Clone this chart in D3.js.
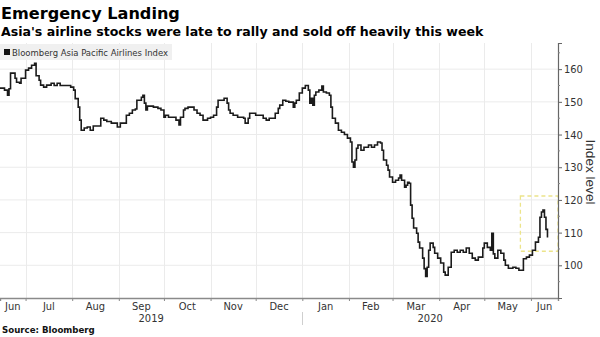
<!DOCTYPE html>
<html><head><meta charset="utf-8">
<script src="https://cdn.jsdelivr.net/npm/d3@7"></script>
<style>
html,body{margin:0;padding:0;background:#fff;}
svg{display:block;}
</style></head>
<body>
<svg id="chart" width="600" height="337"></svg>
<script>
// ---------------- data ----------------
const titleText = "Emergency Landing";
const subtitleText = "Asia's airline stocks were late to rally and sold off heavily this week";
const legendLabel = "Bloomberg Asia Pacific Airlines Index";
const sourceText = "Source: Bloomberg";
const yAxisTitle = "Index level";

const yTicks = [100, 110, 120, 130, 140, 150, 160];
const monthStarts = ["2019-06-01","2019-07-01","2019-08-01","2019-09-01","2019-10-01","2019-11-01","2019-12-01",
                     "2020-01-01","2020-02-01","2020-03-01","2020-04-01","2020-05-01","2020-06-01"];
const monthLabels = ["Jun","Jul","Aug","Sep","Oct","Nov","Dec","Jan","Feb","Mar","Apr","May","Jun"];
const yearStarts = ["2019-01-01","2020-01-01"];
const yearLabels = ["2019","2020"];

// highlight window (dates, index values)
const highlightDates = ["2020-05-25","2020-06-19"];
const highlightValues = [104.3, 121.2];

const indexSeries = [
["2019-06-14",154.2],["2019-06-17",153.6],["2019-06-19",152.0],["2019-06-20",154.0],["2019-06-21",158.8],
["2019-06-24",157.2],["2019-06-25",156.0],["2019-06-27",155.7],["2019-06-28",157.2],["2019-07-01",159.7],
["2019-07-03",160.3],["2019-07-05",161.2],["2019-07-07",161.8],["2019-07-08",158.0],["2019-07-10",156.6],
["2019-07-11",155.1],["2019-07-13",154.5],["2019-07-15",155.1],["2019-07-18",155.7],["2019-07-20",155.0],
["2019-07-22",155.7],["2019-07-24",155.0],["2019-07-28",155.0],["2019-07-31",154.5],["2019-08-02",153.6],
["2019-08-03",151.0],["2019-08-05",148.4],["2019-08-06",144.4],["2019-08-07",141.3],["2019-08-09",142.0],
["2019-08-11",142.3],["2019-08-13",141.3],["2019-08-15",142.6],["2019-08-18",142.6],["2019-08-20",145.0],
["2019-08-22",144.4],["2019-08-24",144.0],["2019-08-27",143.5],["2019-08-29",143.5],["2019-08-31",142.3],
["2019-09-02",143.5],["2019-09-04",143.5],["2019-09-06",145.9],["2019-09-08",146.5],["2019-09-10",147.5],
["2019-09-12",147.8],["2019-09-13",150.5],["2019-09-16",151.4],["2019-09-17",152.0],["2019-09-18",149.6],
["2019-09-19",147.5],["2019-09-20",148.7],["2019-09-24",148.4],["2019-09-27",148.0],["2019-09-29",147.5],
["2019-10-01",145.3],["2019-10-02",145.9],["2019-10-04",145.3],["2019-10-07",145.3],["2019-10-09",144.4],
["2019-10-11",142.9],["2019-10-12",145.3],["2019-10-14",147.5],["2019-10-15",148.0],["2019-10-17",148.4],
["2019-10-20",148.4],["2019-10-21",147.5],["2019-10-23",146.5],["2019-10-25",145.9],["2019-10-27",144.4],
["2019-10-30",145.0],["2019-11-01",145.3],["2019-11-03",145.9],["2019-11-05",148.4],["2019-11-06",150.5],
["2019-11-08",150.5],["2019-11-10",151.1],["2019-11-12",149.6],["2019-11-13",147.5],["2019-11-14",146.5],
["2019-11-16",145.9],["2019-11-19",145.3],["2019-11-21",145.3],["2019-11-23",145.0],["2019-11-24",143.5],
["2019-11-26",145.0],["2019-11-27",146.5],["2019-11-29",146.5],["2019-12-01",145.9],["2019-12-03",145.9],
["2019-12-06",145.0],["2019-12-08",144.4],["2019-12-10",145.0],["2019-12-12",145.0],["2019-12-14",146.5],
["2019-12-16",148.0],["2019-12-17",149.0],["2019-12-19",150.5],["2019-12-21",150.2],["2019-12-23",149.9],
["2019-12-26",148.4],["2019-12-27",149.6],["2019-12-28",150.5],["2019-12-30",152.7],["2020-01-01",154.2],
["2020-01-03",155.0],["2020-01-05",153.6],["2020-01-06",149.6],["2020-01-07",151.1],["2020-01-08",149.0],
["2020-01-09",152.0],["2020-01-10",153.0],["2020-01-12",153.6],["2020-01-14",154.8],["2020-01-15",153.0],
["2020-01-17",152.7],["2020-01-19",152.0],["2020-01-20",148.4],["2020-01-21",145.0],["2020-01-23",143.5],
["2020-01-25",141.3],["2020-01-27",140.7],["2020-01-29",140.0],["2020-01-31",138.9],["2020-02-02",137.7],
["2020-02-03",131.6],["2020-02-04",130.0],["2020-02-05",132.2],["2020-02-06",135.8],["2020-02-07",136.8],
["2020-02-09",135.2],["2020-02-11",136.1],["2020-02-14",136.8],["2020-02-16",136.1],["2020-02-18",136.8],
["2020-02-20",137.7],["2020-02-22",137.4],["2020-02-23",135.2],["2020-02-24",132.2],["2020-02-26",130.6],
["2020-02-27",129.1],["2020-02-28",127.0],["2020-03-01",125.4],["2020-03-03",126.0],["2020-03-05",126.7],
["2020-03-06",127.6],["2020-03-07",126.0],["2020-03-09",123.9],["2020-03-10",124.5],["2020-03-11",125.4],
["2020-03-12",125.1],["2020-03-13",118.4],["2020-03-14",114.4],["2020-03-15",111.4],["2020-03-17",109.8],
["2020-03-18",107.1],["2020-03-19",105.3],["2020-03-21",102.2],["2020-03-22",99.0],["2020-03-23",96.6],
["2020-03-24",99.4],["2020-03-25",104.6],["2020-03-26",106.8],["2020-03-28",105.5],["2020-03-29",103.7],
["2020-03-31",102.2],["2020-04-02",100.7],["2020-04-04",97.9],["2020-04-05",97.0],["2020-04-07",99.4],
["2020-04-09",104.0],["2020-04-11",104.6],["2020-04-13",104.0],["2020-04-15",104.6],["2020-04-17",104.0],
["2020-04-19",105.3],["2020-04-21",103.7],["2020-04-23",102.2],["2020-04-25",101.6],["2020-04-27",102.5],
["2020-04-30",105.3],["2020-05-01",106.8],["2020-05-03",105.5],["2020-05-05",104.6],["2020-05-06",109.8],
["2020-05-07",103.5],["2020-05-08",102.2],["2020-05-10",104.6],["2020-05-12",103.7],["2020-05-14",101.6],
["2020-05-15",100.0],["2020-05-17",99.1],["2020-05-20",99.4],["2020-05-22",99.1],["2020-05-24",98.5],
["2020-05-27",102.0],["2020-05-29",102.5],["2020-05-31",103.1],["2020-06-02",104.6],["2020-06-04",107.1],
["2020-06-06",108.6],["2020-06-07",114.7],["2020-06-08",116.3],["2020-06-09",116.9],["2020-06-10",114.7],
["2020-06-11",111.0],["2020-06-12",108.5]
];

// ---------------- drawing ----------------
const parse = d3.timeParse("%Y-%m-%d");
const svg = d3.select("#chart");
const narrow = "'Liberation Sans Narrow','Arial Narrow','DejaVu Sans Condensed',sans-serif";
const bold = "'DejaVu Sans',sans-serif";

const plot = {left: 0, right: 558, top: 43, bottom: 298};
const xDomain = [parse("2019-06-14"), parse("2020-06-19")];
const x = d3.scaleTime().domain(xDomain).range([plot.left, plot.right]);
const y = d3.scaleLinear().domain([90, 168]).range([plot.bottom, plot.top]);

function fitText(sel, targetWidth) {
  const node = sel.node();
  const fs = parseFloat(sel.attr("font-size"));
  const w = node.getComputedTextLength();
  if (w > 0) sel.attr("font-size", (fs * targetWidth / w).toFixed(2));
  return sel;
}

// gridlines
const grid = svg.append("g").attr("class", "grid");
grid.selectAll("line.h").data(yTicks).join("line")
  .attr("x1", plot.left).attr("x2", plot.right)
  .attr("y1", d => y(d)).attr("y2", d => y(d))
  .attr("stroke", "#ebebeb").attr("stroke-width", 1);
const gridMonths = monthStarts.map(parse).filter(d => d > xDomain[0] && d < xDomain[1]);
grid.selectAll("line.v").data(gridMonths).join("line")
  .attr("x1", d => Math.round(x(d)) + 0.5).attr("x2", d => Math.round(x(d)) + 0.5)
  .attr("y1", plot.top).attr("y2", plot.bottom)
  .attr("stroke", "#ebebeb").attr("stroke-width", 1);

// highlight rectangle
const hx0 = x(parse(highlightDates[0])), hx1 = x(parse(highlightDates[1]));
const hy0 = y(highlightValues[1]), hy1 = y(highlightValues[0]);
svg.append("rect")
  .attr("x", hx0).attr("y", hy0).attr("width", hx1 - hx0).attr("height", hy1 - hy0)
  .attr("fill", "none").attr("stroke", "#ece48a").attr("stroke-width", 1.3)
  .attr("stroke-dasharray", "4,3");

// series line (stepped, like the reference's daily bars)
const line = d3.line().curve(d3.curveStepAfter).x(d => x(parse(d[0]))).y(d => y(d[1]));
svg.append("path").datum(indexSeries)
  .attr("d", line).attr("fill", "none")
  .attr("stroke", "#1b1b1b").attr("stroke-width", 1.6).attr("stroke-linejoin", "miter");

// x axis
const xAxis = d3.axisBottom(x).tickValues(gridMonths).tickSize(3).tickFormat("");
const gx = svg.append("g").attr("transform", `translate(0,${plot.bottom})`).call(xAxis);
gx.select(".domain").attr("stroke", "#8a8a8a").attr("stroke-width", 1.4);
gx.selectAll(".tick line").attr("stroke", "#8a8a8a");

// month labels centred on visible part of each month
const mStarts = monthStarts.map(parse);
monthLabels.forEach((lab, i) => {
  const s = mStarts[i] < xDomain[0] ? xDomain[0] : mStarts[i];
  const eRaw = i + 1 < mStarts.length ? mStarts[i + 1] : d3.timeMonth.offset(mStarts[i], 1);
  const e = eRaw > xDomain[1] ? xDomain[1] : eRaw;
  svg.append("text").attr("x", (x(s) + x(e)) / 2).attr("y", 310)
    .attr("text-anchor", "middle").attr("font-family", narrow).attr("font-size", 11)
    .attr("fill", "#333").text(lab);
});
// year labels
const yStarts = yearStarts.map(parse);
yearLabels.forEach((lab, i) => {
  const s = yStarts[i] < xDomain[0] ? xDomain[0] : yStarts[i];
  const e = i + 1 < yStarts.length ? yStarts[i + 1] : xDomain[1];
  svg.append("text").attr("x", (x(s) + x(e)) / 2).attr("y", 322)
    .attr("text-anchor", "middle").attr("font-family", narrow).attr("font-size", 11)
    .attr("fill", "#333").text(lab);
});
// year separator
yStarts.filter(d => d > xDomain[0]).forEach(d => {
  svg.append("line").attr("x1", Math.round(x(d)) + 0.5).attr("x2", Math.round(x(d)) + 0.5)
    .attr("y1", 312).attr("y2", 325).attr("stroke", "#cfcfcf");
});

// y axis (right)
const yAxis = d3.axisRight(y).tickValues(yTicks).tickSize(4).tickPadding(2);
const gy = svg.append("g").attr("transform", `translate(${plot.right},0)`).call(yAxis);
gy.select(".domain").attr("stroke", "#666").attr("stroke-width", 1.2);
gy.selectAll(".tick line").attr("stroke", "#666");
gy.selectAll(".tick text").attr("font-family", narrow).attr("font-size", 11).attr("fill", "#333");
// minor ticks
const minor = d3.range(95, 168, 10);
gy.selectAll("line.minor").data(minor).join("line").attr("class", "minor")
  .attr("x1", 0).attr("x2", 2).attr("y1", d => y(d)).attr("y2", d => y(d)).attr("stroke", "#888");

// y axis title
const yt = svg.append("text")
  .attr("transform", `translate(586,172) rotate(90)`)
  .attr("text-anchor", "middle").attr("font-family", "'Liberation Sans',Arial,sans-serif")
  .attr("font-size", 13).attr("fill", "#333").text(yAxisTitle);
fitText(yt, 65);

// legend
svg.append("rect").attr("x", 0).attr("y", 44).attr("width", 172).attr("height", 16).attr("fill", "#f0f0f0");
svg.append("rect").attr("x", 4).attr("y", 49).attr("width", 6).attr("height", 6).attr("fill", "#111");
const lt = svg.append("text").attr("x", 12).attr("y", 56)
  .attr("font-family", narrow).attr("font-size", 10).attr("fill", "#333").text(legendLabel);
fitText(lt, 156);

// titles
const t1 = svg.append("text").attr("x", 1).attr("y", 19)
  .attr("font-family", bold).attr("font-weight", "bold").attr("font-size", 16).attr("fill", "#000").text(titleText);
fitText(t1, 179);
const t2 = svg.append("text").attr("x", 1).attr("y", 36)
  .attr("font-family", bold).attr("font-weight", "bold").attr("font-size", 12).attr("fill", "#000").text(subtitleText);
fitText(t2, 483);

// source
const st = svg.append("text").attr("x", 2).attr("y", 333)
  .attr("font-family", bold).attr("font-weight", "bold").attr("font-size", 9).attr("fill", "#111").text(sourceText);
fitText(st, 93);
</script>
</body></html>
